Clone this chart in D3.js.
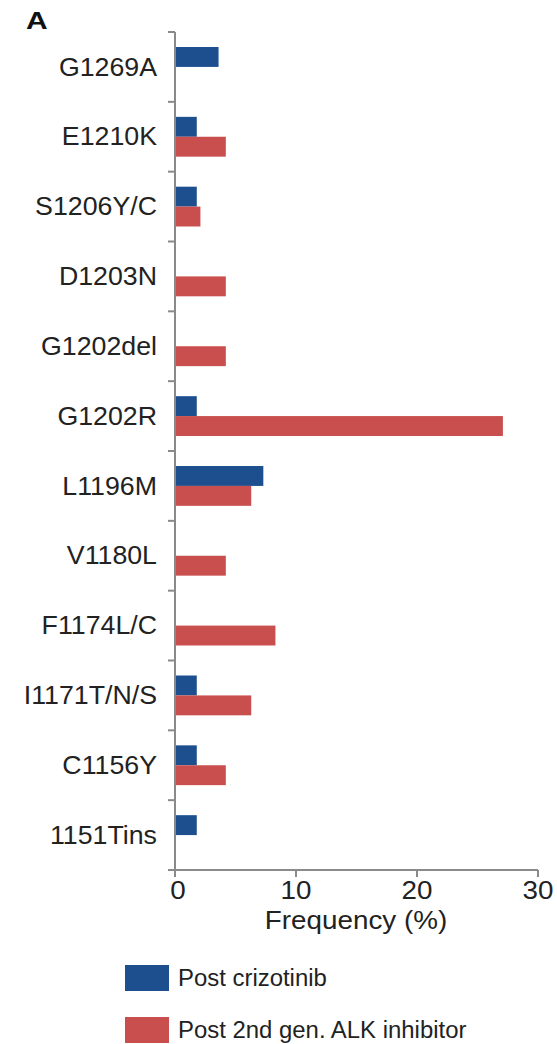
<!DOCTYPE html>
<html><head><meta charset="utf-8">
<script src="https://cdn.jsdelivr.net/npm/d3@7"></script>
<style>body{margin:0;background:#fff}</style>
</head><body>
<script>
const categories = ["G1269A","E1210K","S1206Y/C","D1203N","G1202del","G1202R","L1196M","V1180L","F1174L/C","I1171T/N/S","C1156Y","1151Tins"];
const postCrizotinib = [3.6,1.8,1.8,0,0,1.8,7.3,0,0,1.8,1.8,1.8];
const post2ndGen = [0,4.2,2.1,4.2,4.2,27.1,6.3,4.2,8.3,6.3,4.2,0];
const xTicks = [0,10,20,30];
const seriesNames = ["Post crizotinib","Post 2nd gen. ALK inhibitor"];
const colors = ["#1d4f8f","#c84f4e"];

(function(){
const W=557,H=1044;
const svg=d3.select("body").append("svg").attr("width",W).attr("height",H)
  .style("font-family","'Liberation Sans',Arial,sans-serif");
const mLeft=175,mRight=538,mTop=32,mBottom=870;
const x=d3.scaleLinear().domain([0,30]).range([mLeft,mRight]);
const y=d3.scaleBand().domain(categories).range([mTop,mBottom]).padding(0);
const bw=y.bandwidth();
const sub=d3.scaleBand().domain([0,1]).range([bw*0.215,bw*0.785]);

const series=[postCrizotinib,post2ndGen];
series.forEach((vals,si)=>{
  svg.append("g").selectAll("rect").data(categories.map((c,i)=>({c,v:vals[i]})).filter(d=>d.v>0))
    .join("rect")
    .attr("x",x(0)).attr("y",d=>y(d.c)+sub(si))
    .attr("width",d=>x(d.v)-x(0)).attr("height",sub.bandwidth())
    .attr("fill",colors[si]);
});

const axisColor="#8a8a8a";
svg.append("line").attr("x1",mLeft).attr("x2",mLeft).attr("y1",mTop).attr("y2",mBottom)
  .attr("stroke",axisColor).attr("stroke-width",2);
const bounds=categories.map(c=>y(c)).concat([mBottom]);
svg.append("g").selectAll("line").data(bounds).join("line")
  .attr("x1",mLeft-7).attr("x2",mLeft).attr("y1",d=>d).attr("y2",d=>d)
  .attr("stroke",axisColor).attr("stroke-width",2);
svg.append("g").selectAll("text").data(categories).join("text")
  .attr("transform",d=>`translate(157,${y(d)+bw/2}) scale(1.07,1)`)
  .attr("text-anchor","end").attr("dominant-baseline","central")
  .attr("font-size",25).attr("fill","#222").text(d=>d);

svg.append("line").attr("x1",mLeft).attr("x2",mRight).attr("y1",mBottom).attr("y2",mBottom)
  .attr("stroke",axisColor).attr("stroke-width",2);
svg.append("g").selectAll("line").data(xTicks).join("line")
  .attr("x1",d=>x(d)).attr("x2",d=>x(d)).attr("y1",mBottom).attr("y2",mBottom+7)
  .attr("stroke",axisColor).attr("stroke-width",2);
svg.append("g").selectAll("text").data(xTicks).join("text")
  .attr("transform",d=>`translate(${x(d)+(d===0?3:0)},${mBottom+29}) scale(1.07,1)`)
  .attr("text-anchor","middle").attr("font-size",26).attr("fill","#222").text(d=>d);
svg.append("text").attr("transform",`translate(356,${mBottom+59}) scale(1.07,1)`)
  .attr("text-anchor","middle").attr("font-size",26).attr("fill","#222").text("Frequency (%)");

svg.append("text").attr("transform","translate(26,29) scale(1.25,1)").attr("font-size",24).attr("font-weight","bold").attr("fill","#111").text("A");

const ly=[965,1017];
seriesNames.forEach((n,i)=>{
  svg.append("rect").attr("x",125).attr("y",ly[i]).attr("width",44).attr("height",26).attr("fill",colors[i]);
  svg.append("text").attr("transform",`translate(178,${ly[i]+21}) scale(1.04,1)`)
    .attr("font-size",23).attr("fill","#222").text(n);
});
})();
</script>
</body></html>
